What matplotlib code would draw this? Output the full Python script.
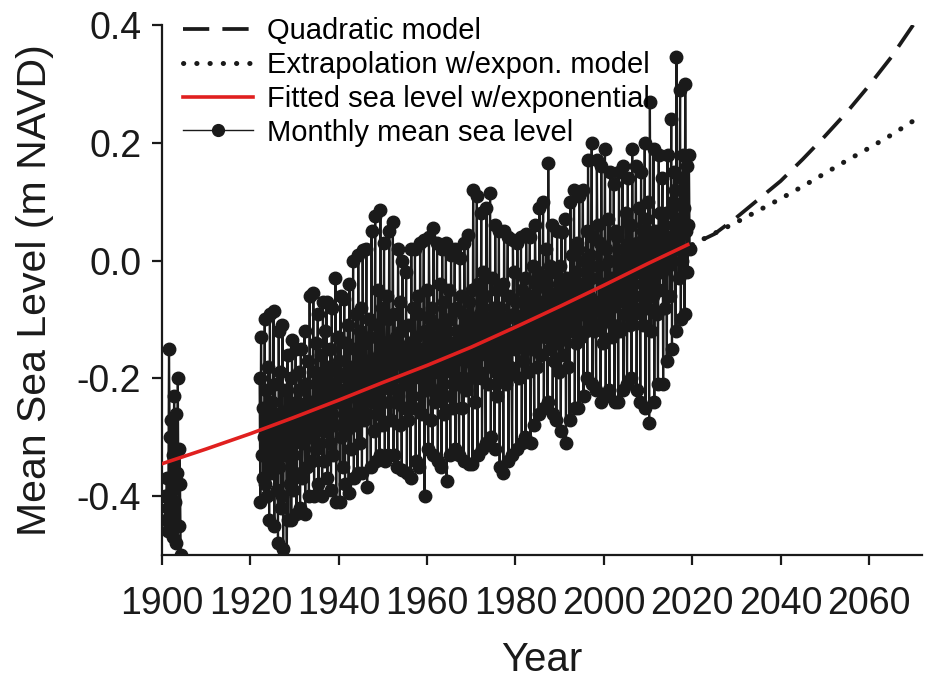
import numpy as np
import matplotlib as mpl
mpl.use('Agg')
import matplotlib.pyplot as plt
from matplotlib.lines import Line2D

plt.rcParams['font.family'] = ['Liberation Sans', 'DejaVu Sans']
plt.rcParams['axes.unicode_minus'] = False

early_start = 1900.75
early_msl = [-0.40, -0.44, -0.37, -0.46, -0.42, -0.15, -0.30, -0.44, -0.27, -0.39, -0.47,
             -0.33, -0.23, -0.41, -0.48, -0.26, -0.36, -0.20, -0.45, -0.32, -0.38, -0.50]

main_start = 1922
main_msl = [
    [-0.20, -0.41, -0.13, -0.33, -0.25, -0.37],   # 1922
    [-0.30, -0.10, -0.38, -0.22, -0.40, -0.27],
    [-0.18, -0.44, -0.09, -0.31, -0.36, -0.24],
    [-0.34, -0.085, -0.45, -0.21, -0.29, -0.39],
    [-0.26, -0.48, -0.12, -0.35, -0.19, -0.42],
    [-0.40, -0.11, -0.49, -0.28, -0.33, -0.22],
    [-0.30, -0.52, -0.16, -0.44, -0.25, -0.38],
    [-0.20, -0.44, -0.135, -0.33, -0.39, -0.27],
    [-0.36, -0.15, -0.43, -0.24, -0.30, -0.19],   # 1930
    [-0.22, -0.42, -0.15, -0.31, -0.37, -0.26],
    [-0.29, -0.12, -0.43, -0.21, -0.35, -0.25],
    [-0.17, -0.40, -0.06, -0.30, -0.24, -0.34],
    [-0.25, -0.055, -0.40, -0.19, -0.32, -0.14],
    [-0.31, -0.09, -0.38, -0.22, -0.27, -0.16],
    [-0.20, -0.40, -0.07, -0.29, -0.34, -0.12],
    [-0.27, -0.07, -0.37, -0.18, -0.23, -0.31],
    [-0.15, -0.39, -0.08, -0.26, -0.33, -0.21],
    [-0.28, -0.03, -0.41, -0.19, -0.24, -0.13],
    [-0.17, -0.41, -0.06, -0.30, -0.22, -0.35],   # 1940
    [-0.24, -0.065, -0.38, -0.14, -0.29, -0.20],
    [-0.11, -0.395, -0.04, -0.26, -0.32, -0.18],
    [-0.23, 0.0, -0.37, -0.15, -0.28, -0.09],
    [-0.19, -0.36, 0.01, -0.25, -0.12, -0.31],
    [-0.08, -0.36, 0.018, -0.21, -0.27, -0.14],
    [-0.26, 0.02, -0.385, -0.17, -0.22, -0.10],
    [-0.13, -0.35, 0.05, -0.24, -0.19, -0.29],
    [-0.20, 0.075, -0.34, -0.11, -0.26, -0.05],
    [-0.16, -0.33, 0.086, -0.22, -0.08, -0.28],
    [-0.24, 0.03, -0.34, -0.14, -0.19, -0.06],    # 1950
    [-0.10, -0.33, 0.05, -0.21, -0.27, -0.15],
    [-0.18, 0.065, -0.33, -0.09, -0.24, -0.13],
    [-0.22, -0.35, 0.02, -0.16, -0.07, -0.28],
    [-0.12, -0.355, 0.0, -0.20, -0.25, -0.15],
    [-0.21, -0.02, -0.36, -0.11, -0.27, -0.17],
    [-0.14, -0.37, 0.02, -0.23, -0.08, -0.19],
    [-0.25, 0.02, -0.34, -0.13, -0.18, -0.06],
    [-0.09, -0.35, 0.03, -0.20, -0.26, -0.15],
    [-0.17, 0.035, -0.40, -0.12, -0.22, -0.05],
    [-0.21, -0.32, 0.04, -0.10, -0.16, -0.27],    # 1960
    [-0.08, -0.33, 0.055, -0.19, -0.24, -0.13],
    [-0.18, 0.03, -0.34, -0.11, -0.22, -0.04],
    [-0.14, -0.35, 0.02, -0.21, -0.07, -0.26],
    [-0.23, 0.03, -0.375, -0.12, -0.17, -0.05],
    [-0.10, -0.33, 0.01, -0.19, -0.25, -0.14],
    [-0.16, 0.02, -0.32, -0.08, -0.21, -0.12],
    [-0.20, -0.33, 0.005, -0.13, -0.06, -0.25],
    [-0.09, -0.34, 0.03, -0.17, -0.22, -0.11],
    [-0.15, 0.043, -0.345, -0.07, -0.20, -0.12],
    [-0.05, -0.345, 0.12, -0.18, -0.10, -0.24],   # 1970
    [-0.13, 0.11, -0.33, -0.04, -0.19, -0.09],
    [-0.20, 0.08, -0.32, -0.11, -0.02, -0.15],
    [-0.06, -0.31, 0.09, -0.16, -0.21, -0.10],
    [-0.14, 0.115, -0.30, -0.03, -0.18, -0.08],
    [-0.11, -0.32, 0.06, -0.19, -0.05, -0.23],
    [-0.16, 0.05, -0.35, -0.08, -0.13, -0.20],
    [-0.04, -0.36, 0.05, -0.15, -0.21, -0.10],
    [-0.12, 0.04, -0.34, -0.06, -0.18, -0.14],
    [-0.19, -0.33, 0.035, -0.09, -0.02, -0.15],
    [-0.07, -0.32, 0.03, -0.13, -0.20, -0.10],    # 1980
    [-0.14, 0.04, -0.31, -0.05, -0.17, -0.09],
    [-0.03, -0.30, 0.045, -0.12, -0.19, -0.08],
    [-0.10, 0.04, -0.31, -0.06, -0.15, -0.01],
    [-0.13, -0.28, 0.06, -0.04, -0.09, -0.18],
    [-0.02, -0.26, 0.09, -0.11, -0.16, -0.07],
    [-0.08, 0.10, -0.25, -0.03, -0.13, 0.02],
    [-0.05, -0.24, 0.165, -0.10, -0.01, -0.15],
    [-0.12, 0.06, -0.26, -0.06, -0.17, -0.02],
    [-0.09, -0.27, 0.05, -0.14, -0.04, -0.19],
    [-0.01, -0.29, 0.048, -0.11, -0.16, -0.06],   # 1990
    [-0.13, 0.07, -0.31, -0.03, -0.09, -0.18],
    [-0.05, -0.27, 0.10, -0.12, 0.01, -0.08],
    [-0.10, 0.12, -0.25, -0.02, -0.14, 0.03],
    [0.02, -0.25, 0.11, -0.07, -0.13, -0.04],
    [-0.09, 0.12, -0.23, 0.00, -0.05, -0.12],
    [0.05, -0.20, 0.17, -0.06, -0.10, 0.01],
    [-0.03, 0.20, -0.21, 0.04, -0.12, -0.07],
    [-0.08, -0.22, 0.17, -0.01, 0.06, -0.11],
    [0.03, -0.24, 0.16, -0.09, -0.04, -0.14],
    [-0.06, 0.19, -0.23, 0.02, -0.10, 0.07],      # 2000
    [0.00, -0.22, 0.15, -0.08, -0.03, -0.13],
    [-0.11, 0.13, -0.24, -0.04, 0.05, -0.07],
    [0.04, -0.24, 0.15, -0.06, -0.12, 0.00],
    [-0.05, 0.16, -0.22, 0.02, -0.09, 0.08],
    [-0.02, -0.21, 0.14, -0.07, 0.03, -0.11],
    [0.06, -0.20, 0.19, -0.04, -0.09, 0.01],
    [-0.08, 0.16, -0.22, 0.03, -0.02, 0.09],
    [0.02, -0.24, 0.15, -0.06, -0.11, 0.05],
    [-0.04, 0.20, -0.25, 0.07, -0.08, 0.00],
    [0.10, -0.275, 0.27, -0.03, -0.12, 0.04],     # 2010
    [-0.06, 0.19, -0.24, 0.05, 0.00, -0.09],
    [0.03, -0.21, 0.18, -0.05, 0.08, -0.01],
    [-0.02, 0.14, -0.21, 0.06, -0.08, 0.02],
    [0.08, -0.17, 0.18, -0.01, 0.04, -0.06],
    [0.00, 0.24, -0.15, 0.10, 0.03, 0.15],
    [0.12, -0.12, 0.345, 0.02, 0.07, -0.03],
    [0.04, 0.29, -0.10, 0.14, 0.00, 0.18],
    [0.09, -0.09, 0.30, 0.05, 0.16, -0.02],
    [0.06, 0.18, 0.02],                           # 2019
]

# fitted exponential curve
fit_years = [1900, 1910, 1920, 1930, 1940, 1950, 1960, 1970, 1980, 1990, 2000, 2010, 2019]
fit_msl = [-0.345, -0.320, -0.294, -0.266, -0.237, -0.207, -0.178, -0.147, -0.113, -0.078,
           -0.042, -0.005, 0.027]

# projections
proj_years = [2020, 2025, 2030, 2035, 2040, 2045, 2050, 2055, 2060, 2065, 2070]
quad_msl = [0.027, 0.045, 0.073, 0.104, 0.135, 0.172, 0.211, 0.252, 0.297, 0.345, 0.40]
expo_msl = [0.027, 0.046, 0.065, 0.085, 0.105, 0.126, 0.148, 0.170, 0.191, 0.213, 0.237]

xticks = [1900, 1920, 1940, 1960, 1980, 2000, 2020, 2040, 2060]
yticks = [-0.4, -0.2, 0.0, 0.2, 0.4]

# time axis for the sampled values
t_early = [early_start + i / 6 for i in range(len(early_msl))]
t_main = []
v_main = []
for k, row in enumerate(main_msl):
    for j, v in enumerate(row):
        t_main.append(main_start + k + (j + 0.5) / 6)
        v_main.append(v)

fig = plt.figure(figsize=(9.25, 6.81), dpi=100)
ax = fig.add_axes([162/925, 1-555/681, 760/925, 530/681])

blk = '#1a1a1a'
red = '#e0201f'
dash = (0, (7, 3.5))
dots = (0, (0.05, 2.6))

ax.plot(t_early, early_msl, '-o', color=blk, lw=1.6, ms=9, zorder=2)
ax.plot(t_main, v_main, '-o', color=blk, lw=1.6, ms=9, zorder=2)
ax.plot(fit_years, fit_msl, color=red, lw=2.6, zorder=3)
# draw the dashed curve from its far end so it finishes on a dash
ax.plot(proj_years[::-1], quad_msl[::-1], color=blk, lw=2.7, linestyle=dash, zorder=3)
ax.plot(proj_years, expo_msl, color=blk, lw=3.6, linestyle=dots,
        dash_capstyle='round', zorder=3)

ax.set_xlim(1900, 2072)
ax.set_ylim(-0.5, 0.4)
ax.set_xticks(xticks)
ax.set_yticks(yticks)
ax.set_yticklabels(['%.1f' % v for v in yticks])

for s in ['top', 'right']:
    ax.spines[s].set_visible(False)
for s in ['left', 'bottom']:
    ax.spines[s].set_linewidth(1.6)
    ax.spines[s].set_color(blk)
ax.tick_params(direction='out', length=7, width=1.6, labelsize=27, colors=blk)
ax.tick_params(axis='x', pad=15)
ax.tick_params(axis='y', pad=8)

ax.set_xlabel('Year', fontsize=29, labelpad=14, color=blk)
ax.set_ylabel('Mean Sea Level (m NAVD)', fontsize=29.5, labelpad=16, color=blk)

# legend built from proxy lines
handles = [
    Line2D([], [], color=blk, lw=2.7, linestyle=dash),
    Line2D([], [], color=blk, lw=3.6, linestyle=dots, dash_capstyle='round'),
    Line2D([], [], color=red, lw=2.6),
    Line2D([], [], color=blk, lw=1.0, marker='o', ms=8.5),
]
labels = ['Quadratic model', 'Extrapolation w/expon. model',
          'Fitted sea level w/exponential', 'Monthly mean sea level']
ax.legend(handles, labels, loc='upper left', bbox_to_anchor=(0.027, 1.015), frameon=False,
          fontsize=21, handlelength=2.4, handletextpad=0.5, labelspacing=0.2,
          borderpad=0, borderaxespad=0)

fig.savefig('out.png', dpi=100)
